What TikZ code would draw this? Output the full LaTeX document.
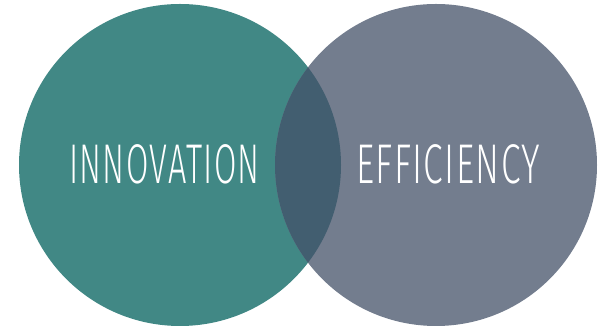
\documentclass[tikz,border=0pt]{standalone}
\usepackage{fontspec}
\setmainfont{Liberation Sans}
\newfontfamily\thinsans[LetterSpace=4]{Fira Sans Light}
\definecolor{innoteal}{RGB}{65,136,133}
\definecolor{effgray}{RGB}{115,125,142}
\definecolor{overlapblue}{RGB}{66,94,112}

\begin{document}
\begin{tikzpicture}[x=1pt,y=1pt,
    label text/.style={text=white,font=\thinsans\fontsize{56}{56}\selectfont,inner sep=0pt,xscale=0.58}]

    % page size
    \useasboundingbox (0,0) rectangle (600,328);

    % draw circles
    \fill[innoteal] (180,163) circle (161pt);
    \fill[effgray] (436,163) circle (161pt);

    % overlap
    \begin{scope}
        \clip (180,163) circle (161pt);
        \fill[overlapblue] (436,163) circle (161pt);
    \end{scope}

    % labels
    \node[label text] (innovation) at (164.5,164) {INNOVATION};
    \node[label text,xscale=1.09] (efficiency) at (448,164) {EFFICIENCY};

\end{tikzpicture}
\end{document}
